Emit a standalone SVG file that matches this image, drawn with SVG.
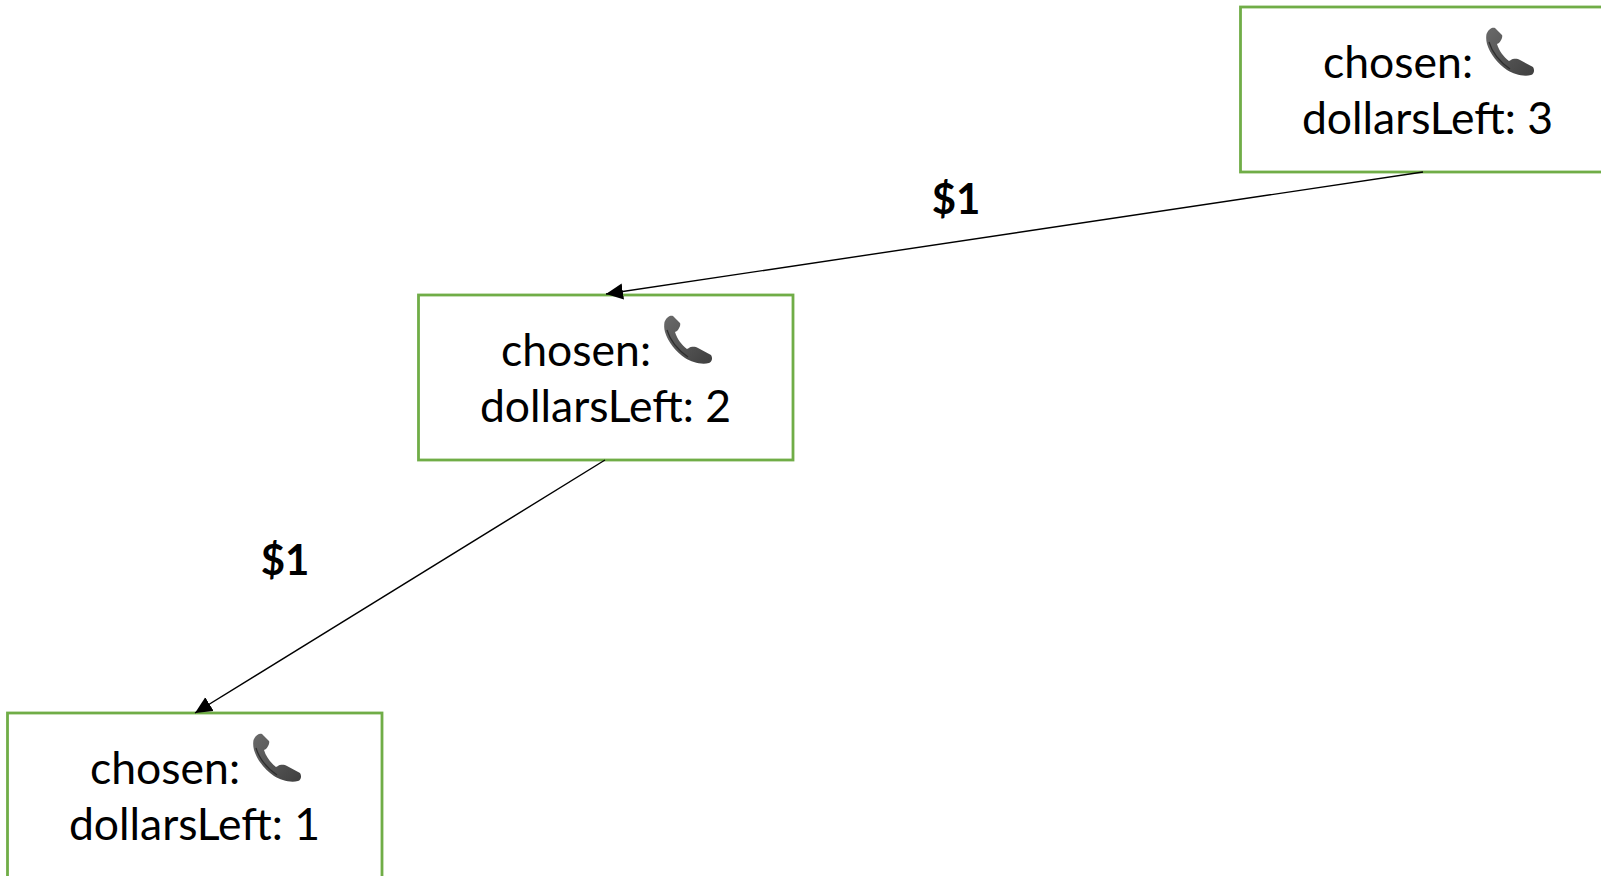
<svg xmlns="http://www.w3.org/2000/svg" width="1601" height="876" viewBox="0 0 1601 876">
<style>
.box{fill:#fff;stroke:#70ad47;stroke-width:2.800}
.t{font-family:"Lato","Carlito","Liberation Sans",sans-serif;font-size:44.500px;fill:#000;text-anchor:middle}
.l{font-family:"Lato","Carlito","Liberation Sans",sans-serif;font-size:42px;font-weight:700;fill:#000;text-anchor:middle}
.c{stroke:#000;stroke-width:1.400;fill:none;marker-end:url(#a)}
</style>
<defs>
<marker id="a" markerUnits="userSpaceOnUse" markerWidth="18" markerHeight="18" refX="17" refY="9" orient="auto"><path d="M0 1L17 9L0 17Z" fill="#000"/></marker>
<linearGradient id="g" x1="0" y1="0" x2="1" y2="1"><stop offset="0" stop-color="#6a6a6a"/><stop offset="1" stop-color="#3f3f3f"/></linearGradient>
<g id="phone">
<path d="M16.500 14C19 8 23 7 25 8L32 15C33 17 31 21 29 23L27 24C29 31 34 37 39 41L41 40C44 38 48 39 50 40L63 47C65 50 64 54 61 55C53 57 44 54 37 50C28 44 20 34 17 24C16 20 16 17 16.500 14Z" fill="url(#g)"/>
<path d="M19 22C22 32 30 42 40 49" stroke="#2e2e2e" stroke-width="1.200" fill="none"/>
</g>
</defs>
<g id="node-3"><rect class="box" x="1240.500" y="7" width="375" height="165"/>
<text class="t" x="1398" y="77.500">chosen:</text>
<text class="t" x="1427.500" y="133.500">dollarsLeft: 3</text>
<use href="#phone" x="1470" y="20"/></g>
<g id="node-2"><rect class="box" x="418.500" y="295" width="374.500" height="165"/>
<text class="t" x="576" y="365.500">chosen:</text>
<text class="t" x="605.500" y="421.500">dollarsLeft: 2</text>
<use href="#phone" x="648" y="308"/></g>
<g id="node-1"><rect class="box" x="7.500" y="713" width="374.500" height="175"/>
<text class="t" x="165" y="783.500">chosen:</text>
<text class="t" x="194.500" y="839.500">dollarsLeft: 1</text>
<use href="#phone" x="237" y="726"/></g>
<g id="connectors">
<line class="c" x1="1423" y1="172" x2="606" y2="294"/>
<line class="c" x1="605" y1="460" x2="195" y2="713"/>
</g>
<text class="l" x="956" y="214">$1</text>
<text class="l" x="285" y="575">$1</text>
</svg>
